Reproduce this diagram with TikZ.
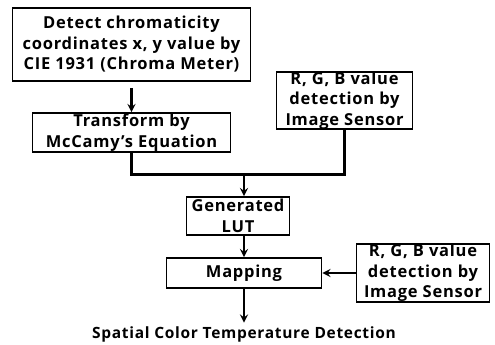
\documentclass[tikz,border=0pt]{standalone}
\usepackage{fontspec}
\setmainfont{Open Sans}[LetterSpace=4.5]
\usetikzlibrary{shapes.geometric, arrows, calc}
\tikzstyle{process} = [rectangle, text centered, align=center, draw=black, line width=1.6pt, inner sep=0pt, font=\bfseries\fontsize{16.5}{20.5}\selectfont]
\tikzstyle{label} = [text centered, font=\bfseries\fontsize{15.5}{18}\selectfont]
\tikzstyle{arrow} = [line width=2.6pt,->,>=stealth]
\tikzstyle{line} = [line width=2.6pt]

\begin{document}
\begin{tikzpicture}[node distance=88pt, auto]
				\useasboundingbox (0,0) rectangle (495pt,-345pt);
				\node(detect) [process, minimum width=238pt, minimum height=73pt] at (131.5pt,-44.5pt) {Detect chromaticity\\coordinates x, y value by\\CIE 1931 (Chroma Meter)};
				\node(transform) [process, minimum width=198pt, minimum height=39pt, below of=detect] {Transform by\\McCamy's Equation};
				\node(rgb1) [process, minimum width=136pt, minimum height=57pt, right of=transform, xshift=125pt, yshift=32pt] {R, G, B value\\detection by\\Image Sensor};
				
				\node(lut) [process, minimum width=103pt, minimum height=38pt, below of=transform, xshift=106.5pt, yshift=4.5pt] {Generated\\LUT};
				\node(map) [process, minimum width=155pt, minimum height=30pt, below of=lut, xshift=6pt, yshift=31pt] {Mapping};
				\node(rgb2) [process, minimum width=133pt, minimum height=57pt, right of=map, xshift=91pt] {R, G, B value\\detection by\\Image Sensor};
				
				\node(result) [label, below of=map, yshift=27pt] {Spatial Color Temperature Detection};
				
				\coordinate (joint) at (map.north |- {$(transform.south)!0.5!(lut.north)$});
				
				\draw[arrow, shorten <=6pt] (detect) -- (transform);
				\draw[line] (transform.south) |- (joint) -| (rgb1.south);
				\draw[arrow] (joint) -- (joint |- lut.north);
				\draw[arrow] (map.north |- lut.south) -- (map.north);
				\draw[arrow] (rgb2) -- (map);
				\draw[arrow] (map) -- (result);
			\end{tikzpicture}
\end{document}
